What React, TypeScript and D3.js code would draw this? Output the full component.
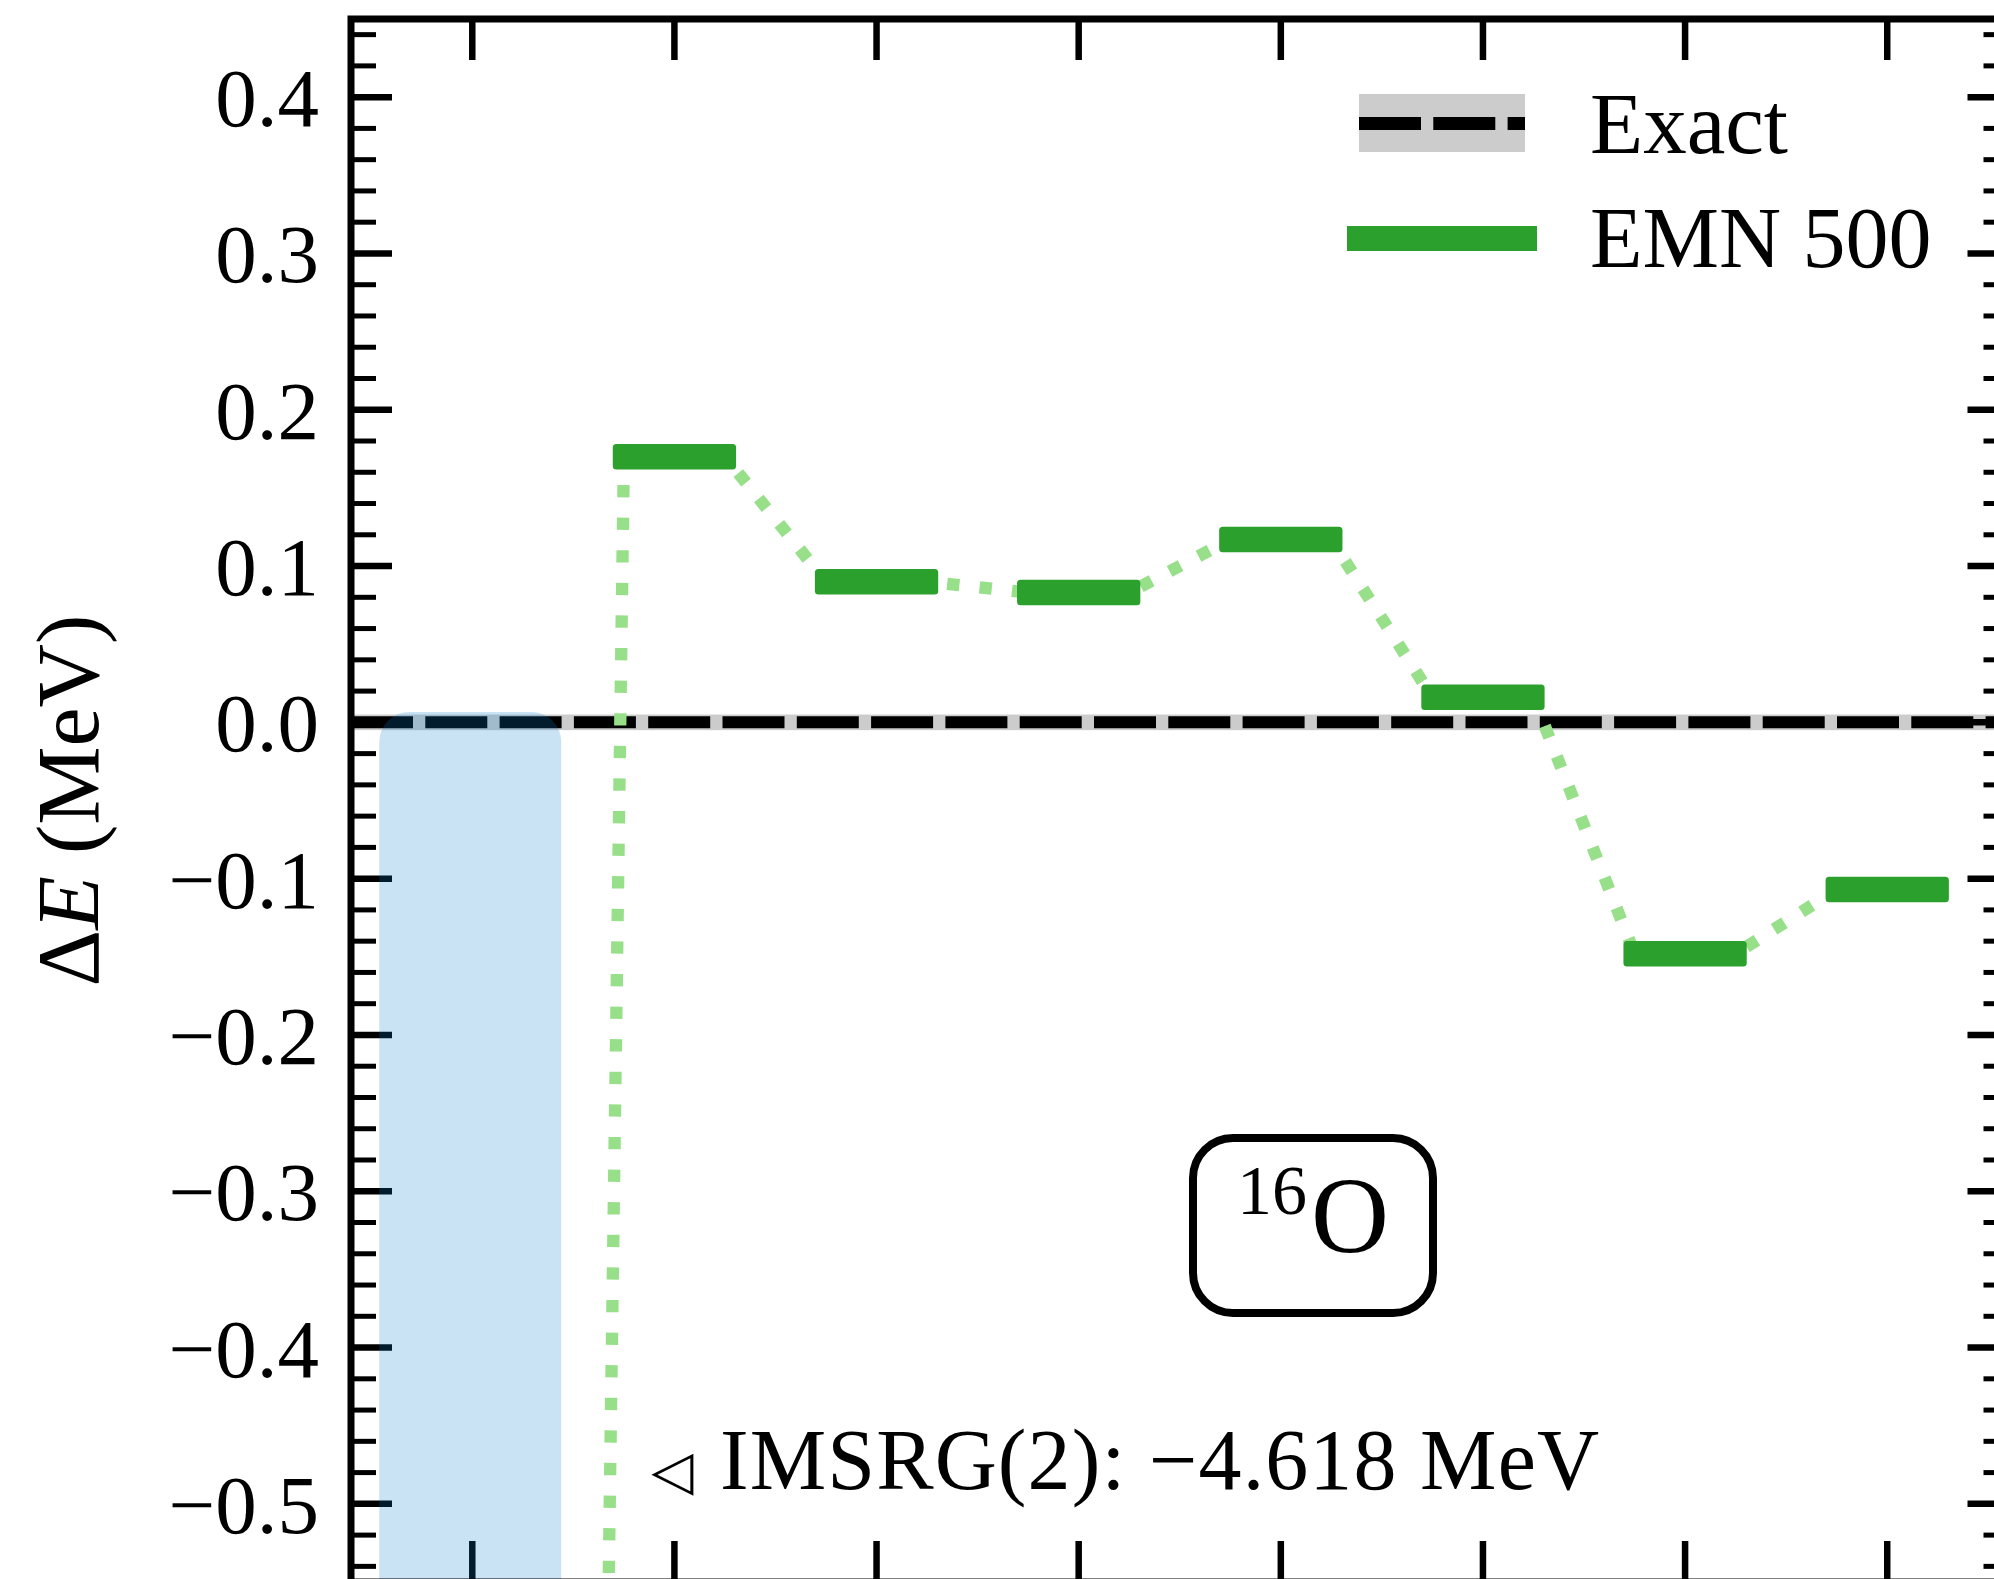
import React from "react";
import * as d3 from "d3";

// ---- data ----------------------------------------------------------------
// level index 0 is the IMSRG(2) reference, the EMN 500 levels follow at 1..7
const levelIndex = [1, 2, 3, 4, 5, 6, 7];
const emn500Shift = [0.17, 0.09, 0.083, 0.117, 0.016, -0.148, -0.107];
const imsrg2Index = 0;
const imsrg2Shift = -4.618;
const exactShift = 0.0;
const exactUncertainty = 0.005;
const xTickValues = [0, 1, 2, 3, 4, 5, 6, 7];
const yMajorTicks = [0.4, 0.3, 0.2, 0.1, 0.0, -0.1, -0.2, -0.3, -0.4, -0.5];
const yTickLabels = ["0.4", "0.3", "0.2", "0.1", "0.0", "\u22120.1", "\u22120.2", "\u22120.3", "\u22120.4", "\u22120.5"];
const yMinorTicks = d3.range(-27, 23).map((k) => k * 0.02).filter((v) => Math.abs(Math.round(v * 10) - v * 10) > 1e-6);
const legendLabels = ["Exact", "EMN 500"];
const highlightBand = { from: -0.46, to: 0.44, top: 0.0066 };
const annotationText = "IMSRG(2):  \u22124.618 MeV";

// ---- layout ----------------------------------------------------------------
const W = 1994;
const H = 1579;
const x = d3.scaleLinear().domain([-0.6, 7.6]).range([351, 2008.5]);
const y = d3.scaleLinear().domain([-0.55, 0.45]).range([1582, 19]);

const FONT = "'Liberation Serif', 'Times New Roman', serif";
const GREEN = "#2ca02c";
const LIGHT_GREEN = "#98df8a";
const HALF = 0.25; // where the connector meets a level
const BAR_HALF = 0.305;
const BAR_THICK = 25.5;
const DOT_LW = 12.3;
const DOT_PATTERN = [DOT_LW, 20.3];
const EXACT_DASH = [62, 12.3];

export default function App() {
  const [x0, x1] = x.range();
  const [yb, yt] = y.range();

  // connector path through all levels, starting from the IMSRG(2) level
  const pts: [number, number][] = [[x(imsrg2Index + HALF), y(imsrg2Shift)]];
  levelIndex.forEach((i, k) => {
    pts.push([x(i - HALF), y(emn500Shift[k])]);
    pts.push([x(i + HALF), y(emn500Shift[k])]);
  });
  const connector = d3.line()(pts) as string;
  const firstLen = Math.hypot(pts[1][0] - pts[0][0], pts[1][1] - pts[0][1]);
  const period = DOT_PATTERN[0] + DOT_PATTERN[1];
  const dashStart = firstLen - 40.7;
  const dotOffset = ((-(dashStart % period)) + period) % period;

  return (
    <svg
      width={W}
      height={H}
      viewBox={`0 0 ${W} ${H}`}
      style={{ position: "absolute", left: 0, top: 0, background: "#fff" }}
      fontFamily={FONT}
    >
      <defs>
        <clipPath id="plot-area">
          <rect x={x0} y={yt} width={x1 - x0} height={yb - yt} />
        </clipPath>
      </defs>
      <rect x={0} y={0} width={W} height={H} fill="#fff" />

      <g clipPath="url(#plot-area)">
        {/* exact result: uncertainty band and dashed line */}
        <rect
          x={x0}
          y={y(exactShift + exactUncertainty)}
          width={x1 - x0}
          height={y(exactShift - exactUncertainty) - y(exactShift + exactUncertainty)}
          fill="#cccccc"
        />
        <line x1={x0} x2={x1} y1={y(exactShift)} y2={y(exactShift)} stroke="#000" strokeWidth={12} strokeDasharray={EXACT_DASH.join(" ")} />

        {/* connector between levels */}
        <path
          d={connector}
          fill="none"
          stroke={LIGHT_GREEN}
          strokeWidth={DOT_LW}
          strokeDasharray={DOT_PATTERN.join(" ")}
          strokeDashoffset={dotOffset}
          strokeLinejoin="round"
        />

        {/* EMN 500 levels */}
        {levelIndex.map((i, k) => (
          <rect
            key={i}
            x={x(i - BAR_HALF)}
            y={y(emn500Shift[k]) - BAR_THICK / 2}
            width={x(i + BAR_HALF) - x(i - BAR_HALF)}
            height={BAR_THICK}
            rx={3.5}
            fill={GREEN}
          />
        ))}
      </g>

      {/* y ticks (left and right, inward) and x ticks (top and bottom) */}
      <g stroke="#000">
        {yMajorTicks.map((v) => (
          <g key={"M" + v}>
            <line x1={x0} x2={x0 + 41} y1={y(v)} y2={y(v)} strokeWidth={6.5} />
            <line x1={x1} x2={x1 - 41} y1={y(v)} y2={y(v)} strokeWidth={6.5} />
          </g>
        ))}
        {yMinorTicks.map((v) => (
          <g key={"m" + v}>
            <line x1={x0} x2={x0 + 25} y1={y(v)} y2={y(v)} strokeWidth={5} />
            <line x1={x1} x2={x1 - 25} y1={y(v)} y2={y(v)} strokeWidth={5} />
          </g>
        ))}
        {xTickValues.map((v) => (
          <g key={"x" + v}>
            <line x1={x(v)} x2={x(v)} y1={yt} y2={yt + 41} strokeWidth={6.5} />
            <line x1={x(v)} x2={x(v)} y1={yb} y2={yb - 41} strokeWidth={6.5} />
          </g>
        ))}
      </g>

      {/* IMSRG(2) highlight column */}
      <rect
        x={x(highlightBand.from)}
        y={y(highlightBand.top)}
        width={x(highlightBand.to) - x(highlightBand.from)}
        height={H + 200 - y(highlightBand.top)}
        rx={30}
        fill="rgb(10,125,205)"
        fillOpacity={0.22}
      />

      {/* frame */}
      <rect x={x0} y={yt} width={x1 - x0} height={yb - yt} fill="none" stroke="#000" strokeWidth={7} />

      {/* y tick labels */}
      <g fontSize={83} textAnchor="end" fill="#000">
        {yMajorTicks.map((v, k) => (
          <text key={v} x={319} y={y(v) + 29}>
            {yTickLabels[k]}
          </text>
        ))}
      </g>

      {/* y axis title */}
      <text transform={`translate(98, ${(yt + yb) / 2}) rotate(-90)`} textAnchor="middle" fontSize={88}>
        <tspan>{"\u0394"}</tspan>
        <tspan fontStyle="italic">E</tspan>
        <tspan>{" (MeV)"}</tspan>
      </text>

      {/* legend */}
      <g>
        <rect x={1359} y={94} width={166} height={58} fill="#cccccc" />
        <line x1={1359} x2={1525} y1={123.5} y2={123.5} stroke="#000" strokeWidth={13} strokeDasharray={EXACT_DASH.join(" ")} />
        <rect x={1347} y={226} width={190} height={25} fill={GREEN} />
        <text x={1590} y={153} fontSize={87}>{legendLabels[0]}</text>
        <text x={1590} y={267} fontSize={86}>{legendLabels[1]}</text>
      </g>

      {/* off-scale IMSRG(2) annotation */}
      <text x={x(imsrg2Index + 0.885)} y={1489} fontSize={86}>
        <tspan fontFamily="'DejaVu Sans', sans-serif" fontSize={55}>{"\u25C1"}</tspan>
        <tspan x={720} textLength={879} lengthAdjust="spacing">{annotationText}</tspan>
      </text>

      {/* nucleus label */}
      <rect x={1193} y={1138} width={240} height={175} rx={40} fill="#fff" stroke="#000" strokeWidth={8} />
      <text x={1313} y={1252} textAnchor="middle">
        <tspan fontSize={70} dy={-38}>16</tspan>
        <tspan fontSize={108} dx={4} dy={38}>O</tspan>
      </text>
    </svg>
  );
}
